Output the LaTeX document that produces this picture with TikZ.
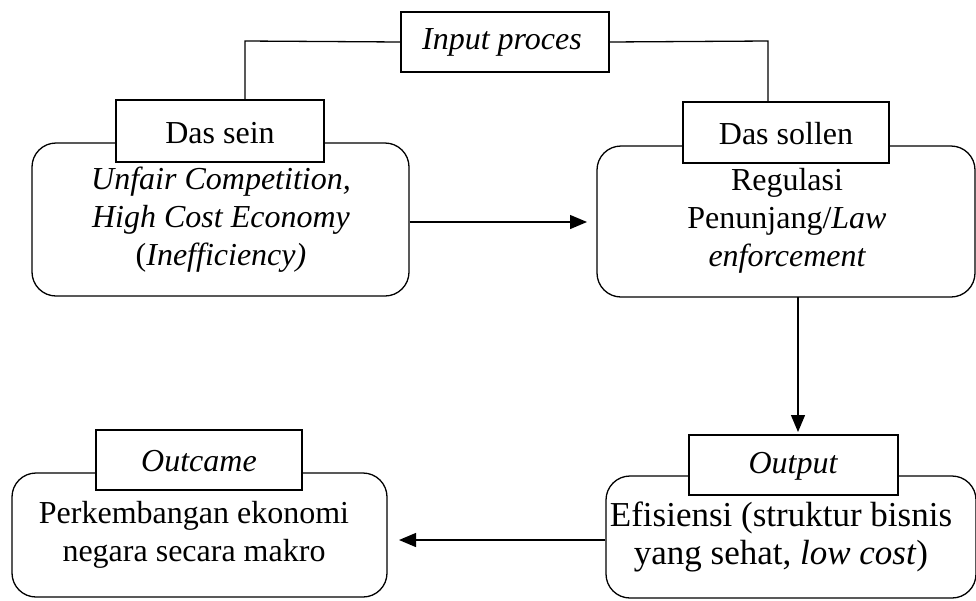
\documentclass[tikz,border=0pt]{standalone}
\usepackage{fontspec}
\setmainfont{Liberation Serif}
\usetikzlibrary{arrows.meta}
\begin{document}
\begin{tikzpicture}[x=1pt,y=-1pt,line width=1.3pt,
  bigbox/.style={draw,rounded corners=24pt,inner sep=0pt},
  labelbox/.style={draw,fill=white,inner sep=0pt},
  txt/.style={align=center,font=\fontsize{32}{38}\selectfont,inner sep=0pt},
  arr/.style={-{Triangle[length=17pt,width=14pt]}}]
\useasboundingbox (0,0) rectangle (976,600);
% big rounded boxes
\node[bigbox,minimum width=377pt,minimum height=153pt] (sein) at (220.5,219.5) {};
\node[bigbox,minimum width=378pt,minimum height=151pt] (sollen) at (786,221.5) {};
\node[bigbox,minimum width=375pt,minimum height=124pt] (outcome) at (199.5,535) {};
\node[bigbox,minimum width=370pt,minimum height=122pt] (output) at (791,537) {};
% label boxes
\node[labelbox,minimum width=208pt,minimum height=60pt] (input) at (505,42) {};
\node[labelbox,minimum width=208pt,minimum height=62pt] (lsein) at (220,131) {};
\node[labelbox,minimum width=206pt,minimum height=61pt] (lsollen) at (786,132.5) {};
\node[labelbox,minimum width=206pt,minimum height=60pt] (loutcome) at (199,460) {};
\node[labelbox,minimum width=209pt,minimum height=60pt] (loutput) at (793.5,465) {};
% texts
\node[txt] at (502,42) {\itshape Input proces};
\node[txt] at (220,133) {Das sein};
\node[txt] at (786,134) {Das sollen};
\node[txt] at (199,461) {\itshape Outcame};
\node[txt] at (793,466) {\itshape Output};
\node[txt] at (221,220) {\itshape Unfair Competition,\\\itshape High Cost Economy\\(\itshape Inefficiency)};
\node[txt] at (787,221) {Regulasi\\Penunjang/\itshape Law\\\itshape enforcement};
\node[txt] at (194,535) {Perkembangan ekonomi\\negara secara makro};
\node[txt,font=\fontsize{35}{38}\selectfont] at (781,537) {Efisiensi (struktur bisnis\\yang sehat, \textit{low cost})};
% connectors
\coordinate (ia) at (245,41);
\coordinate (ib) at (768,41);
\draw (input.west) -- (ia) -- (ia |- lsein.north);
\draw (input.east) -- (ib) -- (ib |- lsollen.north);
\draw[arr] (sein.east |- 0,222) -- (587,222);
\draw[arr] (798,297) -- (798,432);
\draw[arr] (output.west |- 0,540) -- (399,540);
\end{tikzpicture}
\end{document}
